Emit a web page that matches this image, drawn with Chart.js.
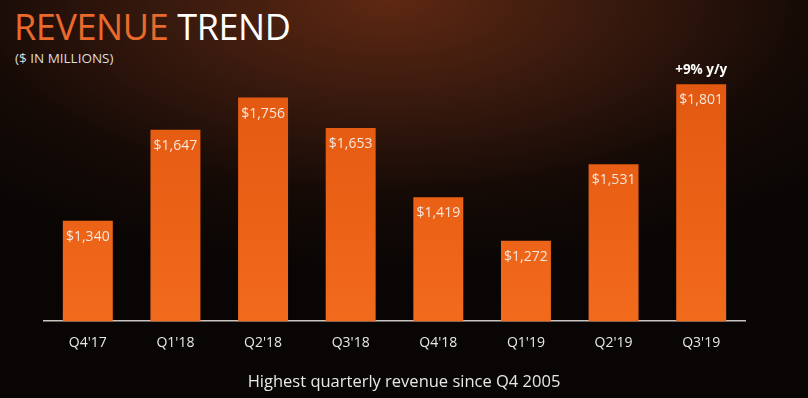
<!DOCTYPE html>
<html>
<head>
<meta charset="utf-8">
<script src="https://cdn.jsdelivr.net/npm/chart.js@4"></script>
<style>
  html, body { margin: 0; padding: 0; }
  body {
    width: 808px; height: 398px; overflow: hidden; position: relative;
    font-family: "Open Sans", sans-serif;
    background: radial-gradient(ellipse 75% 70% at 48% 0%, #5e2812 0%, #3a1a0e 35%, #150a06 70%, #080504 100%);
  }
  #title { position: absolute; left: 14px; top: 7px; font-size: 36px; letter-spacing: -0.4px; color: #fff; line-height: 40px; }
  #title span { color: #ea6a2c; }
  #sub { position: absolute; left: 15px; top: 50px; font-size: 13.5px; line-height: 16px; color: #ddd; }
  #foot { position: absolute; left: 0; width: 808px; top: 369px; text-align: center; font-size: 16.5px; color: #e8e8e8; }
  #wrap { position: absolute; left: 0; top: 0; width: 808px; height: 398px; }
</style>
</head>
<body>
<div id="title"><span>REVENUE</span> TREND</div>
<div id="sub">($ IN MILLIONS)</div>
<div id="wrap"><canvas id="chart" width="808" height="398"></canvas></div>
<div id="foot">Highest quarterly revenue since Q4 2005</div>
<script>
const quarters = ["Q4'17", "Q1'18", "Q2'18", "Q3'18", "Q4'18", "Q1'19", "Q2'19", "Q3'19"];
const revenue = [1340, 1647, 1756, 1653, 1419, 1272, 1531, 1801];
const valueLabels = ["$1,340", "$1,647", "$1,756", "$1,653", "$1,419", "$1,272", "$1,531", "$1,801"];
const lastNote = "+9% y/y";

// writes the $ labels inside the bar tops and the y/y note above the last bar
const barLabels = {
    id: 'barLabels',
    afterDatasetsDraw(chart) {
        const ctx = chart.ctx;
        const meta = chart.getDatasetMeta(0);
        ctx.save();
        ctx.textAlign = 'center';
        ctx.textBaseline = 'middle';
        meta.data.forEach((bar, i) => {
            ctx.fillStyle = '#f6e6dc';
            ctx.font = '14px "Open Sans", sans-serif';
            ctx.fillText(valueLabels[i], bar.x, bar.y + 16);
        });
        const last = meta.data[meta.data.length - 1];
        ctx.fillStyle = '#ffffff';
        ctx.font = 'bold 13.5px "Open Sans", sans-serif';
        ctx.fillText(lastNote, last.x, last.y - 14);
        ctx.restore();
    }
};

function barFill(context) {
    const area = context.chart.chartArea;
    if (!area) return '#e85e16';
    const g = context.chart.ctx.createLinearGradient(0, area.top, 0, area.bottom);
    g.addColorStop(0, '#e0560f');
    g.addColorStop(1, '#f26a1c');
    return g;
}

new Chart(document.getElementById('chart'), {
    type: 'bar',
    data: {
        labels: quarters,
        datasets: [{
            data: revenue,
            backgroundColor: barFill,
            borderWidth: 0,
            barPercentage: 0.57,
            categoryPercentage: 1.0
        }]
    },
    options: {
        responsive: false,
        animation: false,
        layout: { padding: { left: 44, right: 63, top: 55, bottom: 42 } },
        plugins: { legend: { display: false }, tooltip: { enabled: false } },
        scales: {
            x: {
                grid: { display: false },
                border: { display: true, color: '#c8c4c0', width: 1.5 },
                ticks: { color: '#e8e8e8', font: { family: '"Open Sans", sans-serif', size: 14 }, padding: 5 }
            },
            y: { display: false, min: 1000, max: 1900 }
        }
    },
    plugins: [barLabels]
});
</script>
</body>
</html>
